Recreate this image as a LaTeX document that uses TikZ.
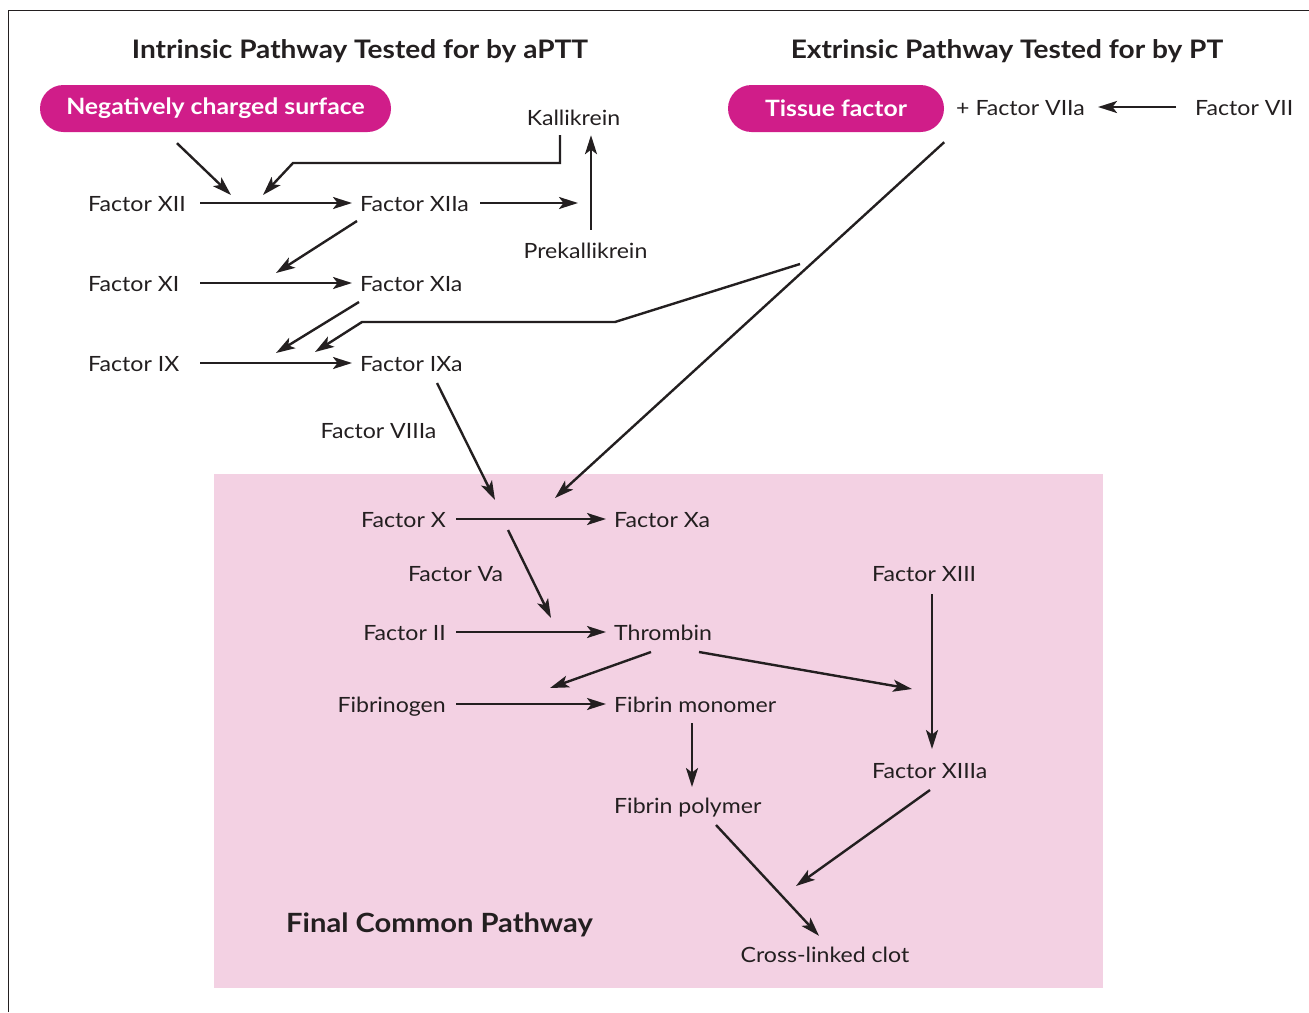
\documentclass[tikz,border=0pt]{standalone}
\usepackage{fontspec}
\setmainfont{Lato}[FakeStretch=1.1]
\usetikzlibrary{arrows.meta}
\definecolor{ink}{HTML}{231F20}
\definecolor{mag}{HTML}{D01D89}
\definecolor{pinkbg}{HTML}{F3D1E3}
\begin{document}
\begin{tikzpicture}[x=1pt,y=-1pt,
  lbl/.style={text=ink, font=\fontsize{21pt}{25pt}\selectfont, inner sep=0pt, text height=17pt, text depth=0pt},
  ttl/.style={text=ink, font=\fontsize{25.5pt}{30pt}\selectfont\bfseries, inner sep=0pt},
  pill/.style={fill=mag, rounded corners=23.5pt, text=white, font=\fontsize{22.5pt}{26pt}\selectfont\bfseries, minimum height=47pt, inner sep=0pt},
  arr/.style={draw=ink, line width=2.4pt, -{Stealth[length=19pt,width=12pt,inset=4.5pt]}}]
\useasboundingbox (0,0) rectangle (1309,1012);
\fill[pinkbg] (214,474) rectangle (1103,988);
\draw[ink, line width=1.5pt] (8.5,1012) -- (8.5,10.5) -- (1309,10.5);

% titles and pills
\node[ttl, anchor=base] (t1) at (360,58.3) {Intrinsic Pathway Tested for by aPTT};
\node[ttl, anchor=base] (t2) at (1007,58.3) {Extrinsic Pathway Tested for by PT};
\node[pill, minimum width=351pt] (ncs) at (215.5,108.5) {Negatively charged surface};
\node[pill, minimum width=216pt] (tf) at (836,108.5) {Tissue factor};

% labels
\node[lbl, anchor=base west] (fviia) at (956,115.5) {+ Factor VIIa};
\node[lbl, anchor=base west] (fvii) at (1195,115.5) {Factor VII};
\node[lbl, anchor=base] (kal) at (573.5,125.5) {Kallikrein};
\node[lbl, anchor=base] (prek) at (585.5,258.5) {Prekallikrein};
\node[lbl, anchor=base west] (fxii) at (88,211.5) {Factor XII};
\node[lbl, anchor=base west] (fxiia) at (360,211.5) {Factor XIIa};
\node[lbl, anchor=base west] (fxi) at (88,291.5) {Factor XI};
\node[lbl, anchor=base west] (fxia) at (360,291.5) {Factor XIa};
\node[lbl, anchor=base west] (fix) at (88,371.5) {Factor IX};
\node[lbl, anchor=base west] (fixa) at (360,371.5) {Factor IXa};
\node[lbl, anchor=base] (fviiia) at (378.5,438.5) {Factor VIIIa};
\node[lbl, anchor=base east] (fx) at (446,527.5) {Factor X};
\node[lbl, anchor=base west] (fxa) at (614,527.5) {Factor Xa};
\node[lbl, anchor=base] (fva) at (455.5,581.5) {Factor Va};
\node[lbl, anchor=base east] (fii) at (446,640.5) {Factor II};
\node[lbl, anchor=base west] (thr) at (614,640.5) {Thrombin};
\node[lbl, anchor=base east] (fbg) at (446,712.5) {Fibrinogen};
\node[lbl, anchor=base west] (fbm) at (614,712.5) {Fibrin monomer};
\node[lbl, anchor=base west] (fbp) at (614,813.5) {Fibrin polymer};
\node[lbl, anchor=base west] (fxiii) at (872,581.5) {Factor XIII};
\node[lbl, anchor=base west] (fxiiia) at (872,778.5) {Factor XIIIa};
\node[lbl, anchor=base] (clot) at (825,962) {Cross-linked clot};
\node[ttl, font=\fontsize{26.5pt}{30pt}\selectfont\bfseries, anchor=base] (fcp) at (439.5,932) {Final Common Pathway};

% free ends of connectors
\coordinate (kj) at (578,203);
\coordinate (j12a) at (231,195);
\coordinate (j12b) at (263,195);
\coordinate (kbend) at (293,163);
\coordinate (j11) at (276,273);
\coordinate (j9a) at (276,353);
\coordinate (xs) at (800,264);
\coordinate (xbend) at (615,322);
\coordinate (xbend2) at (362,322);
\coordinate (j9b) at (315,352);
\coordinate (j10a) at (495,500);
\coordinate (j10b) at (555,498);
\coordinate (jthr) at (551,618);
\coordinate (jfib) at (550,688);
\coordinate (jxiii) at (912,689);
\coordinate (jclot) at (796,886);

% intrinsic
\draw[arr] ([xshift=-19pt]fvii.west) -- ([xshift=142pt]fviia.west);
\draw[arr] ([xshift=112pt]fxii.west) -- ([xshift=-8pt]fxiia.west);
\draw[arr] ([xshift=120pt]fxiia.west) -- (kj);
\draw[arr] ([xshift=5.5pt,yshift=11.5pt]prek.north) -- ([xshift=17.5pt,yshift=-9.5pt]kal.south);
\draw[arr] ([xshift=-13.5pt,yshift=-9.5pt]kal.south) |- (kbend) -- (j12b);
\draw[arr] ([xshift=-38.5pt,yshift=-11pt]ncs.south) -- (j12a);
\draw[arr] ([xshift=-3pt,yshift=-18pt]fxiia.west) -- (j11);
\draw[arr] ([xshift=112pt]fxi.west) -- ([xshift=-8pt]fxia.west);
\draw[arr] ([xshift=-1pt,yshift=-19pt]fxia.west) -- (j9a);
\draw[arr] (xs) -- (xbend) -- (xbend2) -- (j9b);
\draw[arr] ([xshift=112pt]fix.west) -- ([xshift=-8pt]fixa.west);
\draw[arr] ([xshift=77pt,yshift=-20pt]fixa.west) -- (j10a);
% extrinsic
\draw[arr] ([yshift=-10pt]tf.south east) -- (j10b);
% common
\draw[arr] ([xshift=10pt]fx.east) -- ([xshift=-8pt]fxa.west);
\draw[arr] ([xshift=62pt,yshift=-11pt]fx.east) -- (jthr);
\draw[arr] ([xshift=10pt]fii.east) -- ([xshift=-8pt]thr.west);
\draw[arr] ([xshift=37pt,yshift=-20pt]thr.west) -- (jfib);
\draw[arr] ([xshift=85pt,yshift=-20pt]thr.west) -- (jxiii);
\draw[arr] ([xshift=10pt]fbg.east) -- ([xshift=-8pt]fbm.west);
\draw[arr] ([xshift=78pt,yshift=-19pt]fbm.west) -- ([xshift=78pt,yshift=18pt]fbp.west);
\draw[arr] ([xshift=60pt,yshift=-21pt]fxiii.west) -- ([xshift=60pt,yshift=21pt]fxiiia.west);
\draw[arr] ([xshift=58pt,yshift=-20pt]fxiiia.west) -- (jclot);
\draw[arr] ([xshift=102pt,yshift=-20pt]fbp.west) -- ([xshift=-6pt,yshift=9pt]clot.north);
\end{tikzpicture}
\end{document}
